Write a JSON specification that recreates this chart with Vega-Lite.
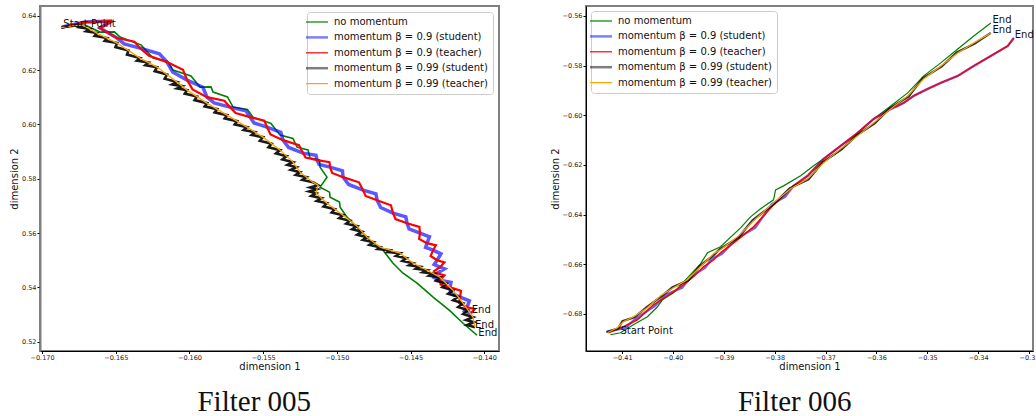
{
  "$schema": "https://vega.github.io/schema/vega-lite/v6.json",
  "padding": {"left": 8, "top": 5, "right": 0, "bottom": 0},
  "background": "white",
  "spacing": 49,
  "config": {
    "view": {"stroke": "#808080", "strokeWidth": 2},
    "axis": {"grid": false, "domainColor": "#000000", "tickColor": "#000000", "labelColor": "#222222", "labelFont": "DejaVu Sans", "labelFontSize": 6.5, "tickSize": 3, "labelPadding": 1, "titleFont": "DejaVu Sans", "titleFontSize": 10, "titleFontWeight": "normal", "titleColor": "#111111", "titlePadding": 2},
    "legend": {"labelFont": "DejaVu Sans", "labelFontSize": 10, "labelColor": "#111111"}
  },
  "datasets": {
    "f005": [
      {"s": "no momentum", "x": -0.16864, "y": 0.63584},
      {"s": "no momentum", "x": -0.16708, "y": 0.63657},
      {"s": "no momentum", "x": -0.16607, "y": 0.63400},
      {"s": "no momentum", "x": -0.16509, "y": 0.63408},
      {"s": "no momentum", "x": -0.16471, "y": 0.63216},
      {"s": "no momentum", "x": -0.16329, "y": 0.62929},
      {"s": "no momentum", "x": -0.16247, "y": 0.62442},
      {"s": "no momentum", "x": -0.16149, "y": 0.62321},
      {"s": "no momentum", "x": -0.16111, "y": 0.62000},
      {"s": "no momentum", "x": -0.15990, "y": 0.61787},
      {"s": "no momentum", "x": -0.15928, "y": 0.61374},
      {"s": "no momentum", "x": -0.15854, "y": 0.61382},
      {"s": "no momentum", "x": -0.15840, "y": 0.61190},
      {"s": "no momentum", "x": -0.15742, "y": 0.61014},
      {"s": "no momentum", "x": -0.15704, "y": 0.60637},
      {"s": "no momentum", "x": -0.15607, "y": 0.60553},
      {"s": "no momentum", "x": -0.15569, "y": 0.60269},
      {"s": "no momentum", "x": -0.15447, "y": 0.60038},
      {"s": "no momentum", "x": -0.15385, "y": 0.59606},
      {"s": "no momentum", "x": -0.15298, "y": 0.59485},
      {"s": "no momentum", "x": -0.15270, "y": 0.59164},
      {"s": "no momentum", "x": -0.15196, "y": 0.59062},
      {"s": "no momentum", "x": -0.15182, "y": 0.58759},
      {"s": "no momentum", "x": -0.15118, "y": 0.58694},
      {"s": "no momentum", "x": -0.15114, "y": 0.58428},
      {"s": "no momentum", "x": -0.15067, "y": 0.58059},
      {"s": "no momentum", "x": -0.15114, "y": 0.57691},
      {"s": "no momentum", "x": -0.15050, "y": 0.57507},
      {"s": "no momentum", "x": -0.15046, "y": 0.57323},
      {"s": "no momentum", "x": -0.14982, "y": 0.57140},
      {"s": "no momentum", "x": -0.14978, "y": 0.56954},
      {"s": "no momentum", "x": -0.14931, "y": 0.56586},
      {"s": "no momentum", "x": -0.14843, "y": 0.56107},
      {"s": "no momentum", "x": -0.14775, "y": 0.55739},
      {"s": "no momentum", "x": -0.14687, "y": 0.55371},
      {"s": "no momentum", "x": -0.14619, "y": 0.54892},
      {"s": "no momentum", "x": -0.14551, "y": 0.54524},
      {"s": "no momentum", "x": -0.14456, "y": 0.54155},
      {"s": "no momentum", "x": -0.14347, "y": 0.53640},
      {"s": "no momentum", "x": -0.14232, "y": 0.53139},
      {"s": "no momentum", "x": -0.14144, "y": 0.52682},
      {"s": "no momentum", "x": -0.14049, "y": 0.52240},

      {"s": "momentum β = 0.9 (student)", "x": -0.16864, "y": 0.63584},
      {"s": "momentum β = 0.9 (student)", "x": -0.16708, "y": 0.63768},
      {"s": "momentum β = 0.9 (student)", "x": -0.16525, "y": 0.63805},
      {"s": "momentum β = 0.9 (student)", "x": -0.16607, "y": 0.63547},
      {"s": "momentum β = 0.9 (student)", "x": -0.16491, "y": 0.63179},
      {"s": "momentum β = 0.9 (student)", "x": -0.16443, "y": 0.62965},
      {"s": "momentum β = 0.9 (student)", "x": -0.16335, "y": 0.62810},
      {"s": "momentum β = 0.9 (student)", "x": -0.16204, "y": 0.62603},
      {"s": "momentum β = 0.9 (student)", "x": -0.16152, "y": 0.62295},
      {"s": "momentum β = 0.9 (student)", "x": -0.16114, "y": 0.61934},
      {"s": "momentum β = 0.9 (student)", "x": -0.16016, "y": 0.61632},
      {"s": "momentum β = 0.9 (student)", "x": -0.15909, "y": 0.61369},
      {"s": "momentum β = 0.9 (student)", "x": -0.15881, "y": 0.61006},
      {"s": "momentum β = 0.9 (student)", "x": -0.15833, "y": 0.60792},
      {"s": "momentum β = 0.9 (student)", "x": -0.15725, "y": 0.60637},
      {"s": "momentum β = 0.9 (student)", "x": -0.15617, "y": 0.60503},
      {"s": "momentum β = 0.9 (student)", "x": -0.15589, "y": 0.60269},
      {"s": "momentum β = 0.9 (student)", "x": -0.15562, "y": 0.60055},
      {"s": "momentum β = 0.9 (student)", "x": -0.15474, "y": 0.59901},
      {"s": "momentum β = 0.9 (student)", "x": -0.15380, "y": 0.59712},
      {"s": "momentum β = 0.9 (student)", "x": -0.15365, "y": 0.59422},
      {"s": "momentum β = 0.9 (student)", "x": -0.15327, "y": 0.59153},
      {"s": "momentum β = 0.9 (student)", "x": -0.15229, "y": 0.58943},
      {"s": "momentum β = 0.9 (student)", "x": -0.15142, "y": 0.58865},
      {"s": "momentum β = 0.9 (student)", "x": -0.15134, "y": 0.58686},
      {"s": "momentum β = 0.9 (student)", "x": -0.15120, "y": 0.58527},
      {"s": "momentum β = 0.9 (student)", "x": -0.15046, "y": 0.58428},
      {"s": "momentum β = 0.9 (student)", "x": -0.14962, "y": 0.58294},
      {"s": "momentum β = 0.9 (student)", "x": -0.14958, "y": 0.58059},
      {"s": "momentum β = 0.9 (student)", "x": -0.14920, "y": 0.57790},
      {"s": "momentum β = 0.9 (student)", "x": -0.14822, "y": 0.57581},
      {"s": "momentum β = 0.9 (student)", "x": -0.14735, "y": 0.57447},
      {"s": "momentum β = 0.9 (student)", "x": -0.14727, "y": 0.57212},
      {"s": "momentum β = 0.9 (student)", "x": -0.14703, "y": 0.56943},
      {"s": "momentum β = 0.9 (student)", "x": -0.14619, "y": 0.56733},
      {"s": "momentum β = 0.9 (student)", "x": -0.14532, "y": 0.56599},
      {"s": "momentum β = 0.9 (student)", "x": -0.14524, "y": 0.56365},
      {"s": "momentum β = 0.9 (student)", "x": -0.14510, "y": 0.56151},
      {"s": "momentum β = 0.9 (student)", "x": -0.14436, "y": 0.55997},
      {"s": "momentum β = 0.9 (student)", "x": -0.14372, "y": 0.55863},
      {"s": "momentum β = 0.9 (student)", "x": -0.14388, "y": 0.55629},
      {"s": "momentum β = 0.9 (student)", "x": -0.14398, "y": 0.55470},
      {"s": "momentum β = 0.9 (student)", "x": -0.14347, "y": 0.55371},
      {"s": "momentum β = 0.9 (student)", "x": -0.14294, "y": 0.55237},
      {"s": "momentum β = 0.9 (student)", "x": -0.14320, "y": 0.55002},
      {"s": "momentum β = 0.9 (student)", "x": -0.14340, "y": 0.54844},
      {"s": "momentum β = 0.9 (student)", "x": -0.14300, "y": 0.54745},
      {"s": "momentum β = 0.9 (student)", "x": -0.14270, "y": 0.54685},
      {"s": "momentum β = 0.9 (student)", "x": -0.14320, "y": 0.54524},
      {"s": "momentum β = 0.9 (student)", "x": -0.14340, "y": 0.54365},
      {"s": "momentum β = 0.9 (student)", "x": -0.14300, "y": 0.54266},
      {"s": "momentum β = 0.9 (student)", "x": -0.14226, "y": 0.54187},
      {"s": "momentum β = 0.9 (student)", "x": -0.14232, "y": 0.54008},
      {"s": "momentum β = 0.9 (student)", "x": -0.14228, "y": 0.53794},
      {"s": "momentum β = 0.9 (student)", "x": -0.14164, "y": 0.53640},
      {"s": "momentum β = 0.9 (student)", "x": -0.14101, "y": 0.53506},
      {"s": "momentum β = 0.9 (student)", "x": -0.14117, "y": 0.53271},
      {"s": "momentum β = 0.9 (student)", "x": -0.14134, "y": 0.53131},
      {"s": "momentum β = 0.9 (student)", "x": -0.14090, "y": 0.53050},

      {"s": "momentum β = 0.9 (teacher)", "x": -0.16864, "y": 0.63584},
      {"s": "momentum β = 0.9 (teacher)", "x": -0.16708, "y": 0.63768},
      {"s": "momentum β = 0.9 (teacher)", "x": -0.16525, "y": 0.63805},
      {"s": "momentum β = 0.9 (teacher)", "x": -0.16607, "y": 0.63547},
      {"s": "momentum β = 0.9 (teacher)", "x": -0.16491, "y": 0.63179},
      {"s": "momentum β = 0.9 (teacher)", "x": -0.16373, "y": 0.63045},
      {"s": "momentum β = 0.9 (teacher)", "x": -0.16335, "y": 0.62810},
      {"s": "momentum β = 0.9 (teacher)", "x": -0.16274, "y": 0.62523},
      {"s": "momentum β = 0.9 (teacher)", "x": -0.16152, "y": 0.62295},
      {"s": "momentum β = 0.9 (teacher)", "x": -0.16044, "y": 0.62014},
      {"s": "momentum β = 0.9 (teacher)", "x": -0.16016, "y": 0.61632},
      {"s": "momentum β = 0.9 (teacher)", "x": -0.15979, "y": 0.61289},
      {"s": "momentum β = 0.9 (teacher)", "x": -0.15881, "y": 0.61006},
      {"s": "momentum β = 0.9 (teacher)", "x": -0.15763, "y": 0.60872},
      {"s": "momentum β = 0.9 (teacher)", "x": -0.15725, "y": 0.60637},
      {"s": "momentum β = 0.9 (teacher)", "x": -0.15687, "y": 0.60423},
      {"s": "momentum β = 0.9 (teacher)", "x": -0.15589, "y": 0.60269},
      {"s": "momentum β = 0.9 (teacher)", "x": -0.15492, "y": 0.60135},
      {"s": "momentum β = 0.9 (teacher)", "x": -0.15474, "y": 0.59901},
      {"s": "momentum β = 0.9 (teacher)", "x": -0.15450, "y": 0.59632},
      {"s": "momentum β = 0.9 (teacher)", "x": -0.15365, "y": 0.59422},
      {"s": "momentum β = 0.9 (teacher)", "x": -0.15257, "y": 0.59233},
      {"s": "momentum β = 0.9 (teacher)", "x": -0.15229, "y": 0.58943},
      {"s": "momentum β = 0.9 (teacher)", "x": -0.15212, "y": 0.58785},
      {"s": "momentum β = 0.9 (teacher)", "x": -0.15134, "y": 0.58686},
      {"s": "momentum β = 0.9 (teacher)", "x": -0.15050, "y": 0.58607},
      {"s": "momentum β = 0.9 (teacher)", "x": -0.15046, "y": 0.58428},
      {"s": "momentum β = 0.9 (teacher)", "x": -0.15032, "y": 0.58214},
      {"s": "momentum β = 0.9 (teacher)", "x": -0.14958, "y": 0.58059},
      {"s": "momentum β = 0.9 (teacher)", "x": -0.14850, "y": 0.57870},
      {"s": "momentum β = 0.9 (teacher)", "x": -0.14822, "y": 0.57581},
      {"s": "momentum β = 0.9 (teacher)", "x": -0.14805, "y": 0.57367},
      {"s": "momentum β = 0.9 (teacher)", "x": -0.14727, "y": 0.57212},
      {"s": "momentum β = 0.9 (teacher)", "x": -0.14633, "y": 0.57023},
      {"s": "momentum β = 0.9 (teacher)", "x": -0.14619, "y": 0.56733},
      {"s": "momentum β = 0.9 (teacher)", "x": -0.14602, "y": 0.56519},
      {"s": "momentum β = 0.9 (teacher)", "x": -0.14524, "y": 0.56365},
      {"s": "momentum β = 0.9 (teacher)", "x": -0.14440, "y": 0.56231},
      {"s": "momentum β = 0.9 (teacher)", "x": -0.14436, "y": 0.55997},
      {"s": "momentum β = 0.9 (teacher)", "x": -0.14442, "y": 0.55783},
      {"s": "momentum β = 0.9 (teacher)", "x": -0.14388, "y": 0.55629},
      {"s": "momentum β = 0.9 (teacher)", "x": -0.14328, "y": 0.55550},
      {"s": "momentum β = 0.9 (teacher)", "x": -0.14347, "y": 0.55371},
      {"s": "momentum β = 0.9 (teacher)", "x": -0.14364, "y": 0.55157},
      {"s": "momentum β = 0.9 (teacher)", "x": -0.14320, "y": 0.55002},
      {"s": "momentum β = 0.9 (teacher)", "x": -0.14270, "y": 0.54924},
      {"s": "momentum β = 0.9 (teacher)", "x": -0.14300, "y": 0.54745},
      {"s": "momentum β = 0.9 (teacher)", "x": -0.14340, "y": 0.54605},
      {"s": "momentum β = 0.9 (teacher)", "x": -0.14320, "y": 0.54524},
      {"s": "momentum β = 0.9 (teacher)", "x": -0.14270, "y": 0.54445},
      {"s": "momentum β = 0.9 (teacher)", "x": -0.14300, "y": 0.54266},
      {"s": "momentum β = 0.9 (teacher)", "x": -0.14296, "y": 0.54107},
      {"s": "momentum β = 0.9 (teacher)", "x": -0.14232, "y": 0.54008},
      {"s": "momentum β = 0.9 (teacher)", "x": -0.14158, "y": 0.53874},
      {"s": "momentum β = 0.9 (teacher)", "x": -0.14164, "y": 0.53640},
      {"s": "momentum β = 0.9 (teacher)", "x": -0.14171, "y": 0.53426},
      {"s": "momentum β = 0.9 (teacher)", "x": -0.14117, "y": 0.53271},
      {"s": "momentum β = 0.9 (teacher)", "x": -0.14064, "y": 0.53211},
      {"s": "momentum β = 0.9 (teacher)", "x": -0.14090, "y": 0.53050},

      {"s": "momentum β = 0.99 (student)", "x": -0.16871, "y": 0.63565},
      {"s": "momentum β = 0.99 (student)", "x": -0.16810, "y": 0.63621},
      {"s": "momentum β = 0.99 (student)", "x": -0.16722, "y": 0.63657},
      {"s": "momentum β = 0.99 (student)", "x": -0.16748, "y": 0.63573},
      {"s": "momentum β = 0.99 (student)", "x": -0.16675, "y": 0.63510},
      {"s": "momentum β = 0.99 (student)", "x": -0.16701, "y": 0.63426},
      {"s": "momentum β = 0.99 (student)", "x": -0.16627, "y": 0.63363},
      {"s": "momentum β = 0.99 (student)", "x": -0.16643, "y": 0.63261},
      {"s": "momentum β = 0.99 (student)", "x": -0.16559, "y": 0.63179},
      {"s": "momentum β = 0.99 (student)", "x": -0.16575, "y": 0.63077},
      {"s": "momentum β = 0.99 (student)", "x": -0.16491, "y": 0.62995},
      {"s": "momentum β = 0.99 (student)", "x": -0.16502, "y": 0.62847},
      {"s": "momentum β = 0.99 (student)", "x": -0.16413, "y": 0.62719},
      {"s": "momentum β = 0.99 (student)", "x": -0.16424, "y": 0.62570},
      {"s": "momentum β = 0.99 (student)", "x": -0.16335, "y": 0.62442},
      {"s": "momentum β = 0.99 (student)", "x": -0.16356, "y": 0.62349},
      {"s": "momentum β = 0.99 (student)", "x": -0.16278, "y": 0.62277},
      {"s": "momentum β = 0.99 (student)", "x": -0.16299, "y": 0.62184},
      {"s": "momentum β = 0.99 (student)", "x": -0.16220, "y": 0.62111},
      {"s": "momentum β = 0.99 (student)", "x": -0.16236, "y": 0.61963},
      {"s": "momentum β = 0.99 (student)", "x": -0.16152, "y": 0.61835},
      {"s": "momentum β = 0.99 (student)", "x": -0.16168, "y": 0.61686},
      {"s": "momentum β = 0.99 (student)", "x": -0.16084, "y": 0.61558},
      {"s": "momentum β = 0.99 (student)", "x": -0.16117, "y": 0.61475},
      {"s": "momentum β = 0.99 (student)", "x": -0.16050, "y": 0.61411},
      {"s": "momentum β = 0.99 (student)", "x": -0.16083, "y": 0.61328},
      {"s": "momentum β = 0.99 (student)", "x": -0.16016, "y": 0.61264},
      {"s": "momentum β = 0.99 (student)", "x": -0.16032, "y": 0.61134},
      {"s": "momentum β = 0.99 (student)", "x": -0.15949, "y": 0.61025},
      {"s": "momentum β = 0.99 (student)", "x": -0.15965, "y": 0.60895},
      {"s": "momentum β = 0.99 (student)", "x": -0.15881, "y": 0.60785},
      {"s": "momentum β = 0.99 (student)", "x": -0.15897, "y": 0.60665},
      {"s": "momentum β = 0.99 (student)", "x": -0.15813, "y": 0.60564},
      {"s": "momentum β = 0.99 (student)", "x": -0.15829, "y": 0.60444},
      {"s": "momentum β = 0.99 (student)", "x": -0.15745, "y": 0.60343},
      {"s": "momentum β = 0.99 (student)", "x": -0.15761, "y": 0.60223},
      {"s": "momentum β = 0.99 (student)", "x": -0.15677, "y": 0.60122},
      {"s": "momentum β = 0.99 (student)", "x": -0.15693, "y": 0.60002},
      {"s": "momentum β = 0.99 (student)", "x": -0.15609, "y": 0.59901},
      {"s": "momentum β = 0.99 (student)", "x": -0.15632, "y": 0.59799},
      {"s": "momentum β = 0.99 (student)", "x": -0.15555, "y": 0.59717},
      {"s": "momentum β = 0.99 (student)", "x": -0.15578, "y": 0.59615},
      {"s": "momentum β = 0.99 (student)", "x": -0.15501, "y": 0.59533},
      {"s": "momentum β = 0.99 (student)", "x": -0.15522, "y": 0.59403},
      {"s": "momentum β = 0.99 (student)", "x": -0.15443, "y": 0.59294},
      {"s": "momentum β = 0.99 (student)", "x": -0.15464, "y": 0.59164},
      {"s": "momentum β = 0.99 (student)", "x": -0.15385, "y": 0.59054},
      {"s": "momentum β = 0.99 (student)", "x": -0.15413, "y": 0.58934},
      {"s": "momentum β = 0.99 (student)", "x": -0.15341, "y": 0.58833},
      {"s": "momentum β = 0.99 (student)", "x": -0.15369, "y": 0.58713},
      {"s": "momentum β = 0.99 (student)", "x": -0.15297, "y": 0.58612},
      {"s": "momentum β = 0.99 (student)", "x": -0.15335, "y": 0.58510},
      {"s": "momentum β = 0.99 (student)", "x": -0.15274, "y": 0.58428},
      {"s": "momentum β = 0.99 (student)", "x": -0.15312, "y": 0.58326},
      {"s": "momentum β = 0.99 (student)", "x": -0.15250, "y": 0.58244},
      {"s": "momentum β = 0.99 (student)", "x": -0.15278, "y": 0.58142},
      {"s": "momentum β = 0.99 (student)", "x": -0.15206, "y": 0.58060},
      {"s": "momentum β = 0.99 (student)", "x": -0.15234, "y": 0.57957},
      {"s": "momentum β = 0.99 (student)", "x": -0.15162, "y": 0.57875},
      {"s": "momentum β = 0.99 (student)", "x": -0.15128, "y": 0.57765},
      {"s": "momentum β = 0.99 (student)", "x": -0.15181, "y": 0.57681},
      {"s": "momentum β = 0.99 (student)", "x": -0.15135, "y": 0.57618},
      {"s": "momentum β = 0.99 (student)", "x": -0.15188, "y": 0.57534},
      {"s": "momentum β = 0.99 (student)", "x": -0.15141, "y": 0.57470},
      {"s": "momentum β = 0.99 (student)", "x": -0.15173, "y": 0.57368},
      {"s": "momentum β = 0.99 (student)", "x": -0.15104, "y": 0.57286},
      {"s": "momentum β = 0.99 (student)", "x": -0.15136, "y": 0.57184},
      {"s": "momentum β = 0.99 (student)", "x": -0.15067, "y": 0.57102},
      {"s": "momentum β = 0.99 (student)", "x": -0.15090, "y": 0.56982},
      {"s": "momentum β = 0.99 (student)", "x": -0.15013, "y": 0.56881},
      {"s": "momentum β = 0.99 (student)", "x": -0.15035, "y": 0.56761},
      {"s": "momentum β = 0.99 (student)", "x": -0.14958, "y": 0.56660},
      {"s": "momentum β = 0.99 (student)", "x": -0.14984, "y": 0.56549},
      {"s": "momentum β = 0.99 (student)", "x": -0.14911, "y": 0.56458},
      {"s": "momentum β = 0.99 (student)", "x": -0.14937, "y": 0.56346},
      {"s": "momentum β = 0.99 (student)", "x": -0.14863, "y": 0.56255},
      {"s": "momentum β = 0.99 (student)", "x": -0.14896, "y": 0.56144},
      {"s": "momentum β = 0.99 (student)", "x": -0.14829, "y": 0.56053},
      {"s": "momentum β = 0.99 (student)", "x": -0.14862, "y": 0.55941},
      {"s": "momentum β = 0.99 (student)", "x": -0.14795, "y": 0.55850},
      {"s": "momentum β = 0.99 (student)", "x": -0.14823, "y": 0.55748},
      {"s": "momentum β = 0.99 (student)", "x": -0.14751, "y": 0.55666},
      {"s": "momentum β = 0.99 (student)", "x": -0.14779, "y": 0.55563},
      {"s": "momentum β = 0.99 (student)", "x": -0.14707, "y": 0.55481},
      {"s": "momentum β = 0.99 (student)", "x": -0.14723, "y": 0.55416},
      {"s": "momentum β = 0.99 (student)", "x": -0.14639, "y": 0.55371},
      {"s": "momentum β = 0.99 (student)", "x": -0.14655, "y": 0.55305},
      {"s": "momentum β = 0.99 (student)", "x": -0.14571, "y": 0.55260},
      {"s": "momentum β = 0.99 (student)", "x": -0.14599, "y": 0.55158},
      {"s": "momentum β = 0.99 (student)", "x": -0.14527, "y": 0.55076},
      {"s": "momentum β = 0.99 (student)", "x": -0.14555, "y": 0.54974},
      {"s": "momentum β = 0.99 (student)", "x": -0.14483, "y": 0.54892},
      {"s": "momentum β = 0.99 (student)", "x": -0.14509, "y": 0.54818},
      {"s": "momentum β = 0.99 (student)", "x": -0.14436, "y": 0.54763},
      {"s": "momentum β = 0.99 (student)", "x": -0.14462, "y": 0.54689},
      {"s": "momentum β = 0.99 (student)", "x": -0.14388, "y": 0.54634},
      {"s": "momentum β = 0.99 (student)", "x": -0.14416, "y": 0.54560},
      {"s": "momentum β = 0.99 (student)", "x": -0.14344, "y": 0.54505},
      {"s": "momentum β = 0.99 (student)", "x": -0.14372, "y": 0.54431},
      {"s": "momentum β = 0.99 (student)", "x": -0.14300, "y": 0.54376},
      {"s": "momentum β = 0.99 (student)", "x": -0.14328, "y": 0.54247},
      {"s": "momentum β = 0.99 (student)", "x": -0.14256, "y": 0.54137},
      {"s": "momentum β = 0.99 (student)", "x": -0.14284, "y": 0.54008},
      {"s": "momentum β = 0.99 (student)", "x": -0.14212, "y": 0.53898},
      {"s": "momentum β = 0.99 (student)", "x": -0.14245, "y": 0.53768},
      {"s": "momentum β = 0.99 (student)", "x": -0.14178, "y": 0.53659},
      {"s": "momentum β = 0.99 (student)", "x": -0.14211, "y": 0.53529},
      {"s": "momentum β = 0.99 (student)", "x": -0.14144, "y": 0.53419},
      {"s": "momentum β = 0.99 (student)", "x": -0.14177, "y": 0.53280},
      {"s": "momentum β = 0.99 (student)", "x": -0.14110, "y": 0.53161},
      {"s": "momentum β = 0.99 (student)", "x": -0.14143, "y": 0.53022},
      {"s": "momentum β = 0.99 (student)", "x": -0.14076, "y": 0.52903},
      {"s": "momentum β = 0.99 (student)", "x": -0.14123, "y": 0.52801},
      {"s": "momentum β = 0.99 (student)", "x": -0.14070, "y": 0.52719},
      {"s": "momentum β = 0.99 (student)", "x": -0.14116, "y": 0.52617},
      {"s": "momentum β = 0.99 (student)", "x": -0.14063, "y": 0.52535},

      {"s": "momentum β = 0.99 (teacher)", "x": -0.16871, "y": 0.63565},
      {"s": "momentum β = 0.99 (teacher)", "x": -0.16810, "y": 0.63621},
      {"s": "momentum β = 0.99 (teacher)", "x": -0.16722, "y": 0.63657},
      {"s": "momentum β = 0.99 (teacher)", "x": -0.16627, "y": 0.63363},
      {"s": "momentum β = 0.99 (teacher)", "x": -0.16491, "y": 0.62995},
      {"s": "momentum β = 0.99 (teacher)", "x": -0.16335, "y": 0.62442},
      {"s": "momentum β = 0.99 (teacher)", "x": -0.16220, "y": 0.62111},
      {"s": "momentum β = 0.99 (teacher)", "x": -0.16084, "y": 0.61558},
      {"s": "momentum β = 0.99 (teacher)", "x": -0.16016, "y": 0.61264},
      {"s": "momentum β = 0.99 (teacher)", "x": -0.15881, "y": 0.60785},
      {"s": "momentum β = 0.99 (teacher)", "x": -0.15745, "y": 0.60343},
      {"s": "momentum β = 0.99 (teacher)", "x": -0.15609, "y": 0.59901},
      {"s": "momentum β = 0.99 (teacher)", "x": -0.15501, "y": 0.59533},
      {"s": "momentum β = 0.99 (teacher)", "x": -0.15385, "y": 0.59054},
      {"s": "momentum β = 0.99 (teacher)", "x": -0.15297, "y": 0.58612},
      {"s": "momentum β = 0.99 (teacher)", "x": -0.15250, "y": 0.58244},
      {"s": "momentum β = 0.99 (teacher)", "x": -0.15162, "y": 0.57875},
      {"s": "momentum β = 0.99 (teacher)", "x": -0.15128, "y": 0.57765},
      {"s": "momentum β = 0.99 (teacher)", "x": -0.15141, "y": 0.57470},
      {"s": "momentum β = 0.99 (teacher)", "x": -0.15067, "y": 0.57102},
      {"s": "momentum β = 0.99 (teacher)", "x": -0.14958, "y": 0.56660},
      {"s": "momentum β = 0.99 (teacher)", "x": -0.14863, "y": 0.56255},
      {"s": "momentum β = 0.99 (teacher)", "x": -0.14795, "y": 0.55850},
      {"s": "momentum β = 0.99 (teacher)", "x": -0.14707, "y": 0.55481},
      {"s": "momentum β = 0.99 (teacher)", "x": -0.14571, "y": 0.55260},
      {"s": "momentum β = 0.99 (teacher)", "x": -0.14483, "y": 0.54892},
      {"s": "momentum β = 0.99 (teacher)", "x": -0.14388, "y": 0.54634},
      {"s": "momentum β = 0.99 (teacher)", "x": -0.14300, "y": 0.54376},
      {"s": "momentum β = 0.99 (teacher)", "x": -0.14212, "y": 0.53898},
      {"s": "momentum β = 0.99 (teacher)", "x": -0.14144, "y": 0.53419},
      {"s": "momentum β = 0.99 (teacher)", "x": -0.14076, "y": 0.52903},
      {"s": "momentum β = 0.99 (teacher)", "x": -0.14063, "y": 0.52535}
    ],
    "f006": [
      {"s": "no momentum", "x": -0.41230, "y": -0.68837},
      {"s": "no momentum", "x": -0.41033, "y": -0.68756},
      {"s": "no momentum", "x": -0.40778, "y": -0.68434},
      {"s": "no momentum", "x": -0.40502, "y": -0.68112},
      {"s": "no momentum", "x": -0.40305, "y": -0.67710},
      {"s": "no momentum", "x": -0.40207, "y": -0.67428},
      {"s": "no momentum", "x": -0.39990, "y": -0.67146},
      {"s": "no momentum", "x": -0.39715, "y": -0.66543},
      {"s": "no momentum", "x": -0.39459, "y": -0.65980},
      {"s": "no momentum", "x": -0.39321, "y": -0.65537},
      {"s": "no momentum", "x": -0.39065, "y": -0.65295},
      {"s": "no momentum", "x": -0.38671, "y": -0.64531},
      {"s": "no momentum", "x": -0.38474, "y": -0.64088},
      {"s": "no momentum", "x": -0.38278, "y": -0.63766},
      {"s": "no momentum", "x": -0.38022, "y": -0.63404},
      {"s": "no momentum", "x": -0.37982, "y": -0.63002},
      {"s": "no momentum", "x": -0.37825, "y": -0.62841},
      {"s": "no momentum", "x": -0.37490, "y": -0.62438},
      {"s": "no momentum", "x": -0.37234, "y": -0.62036},
      {"s": "no momentum", "x": -0.37037, "y": -0.61754},
      {"s": "no momentum", "x": -0.36703, "y": -0.61231},
      {"s": "no momentum", "x": -0.36368, "y": -0.60708},
      {"s": "no momentum", "x": -0.36053, "y": -0.60145},
      {"s": "no momentum", "x": -0.35718, "y": -0.59622},
      {"s": "no momentum", "x": -0.35384, "y": -0.59098},
      {"s": "no momentum", "x": -0.35069, "y": -0.58414},
      {"s": "no momentum", "x": -0.34734, "y": -0.57891},
      {"s": "no momentum", "x": -0.34400, "y": -0.57328},
      {"s": "no momentum", "x": -0.34085, "y": -0.56805},
      {"s": "no momentum", "x": -0.33750, "y": -0.56282},

      {"s": "momentum β = 0.9 (student)", "x": -0.41300, "y": -0.68716},
      {"s": "momentum β = 0.9 (student)", "x": -0.40944, "y": -0.68555},
      {"s": "momentum β = 0.9 (student)", "x": -0.40729, "y": -0.68193},
      {"s": "momentum β = 0.9 (student)", "x": -0.40354, "y": -0.67669},
      {"s": "momentum β = 0.9 (student)", "x": -0.40138, "y": -0.67227},
      {"s": "momentum β = 0.9 (student)", "x": -0.39822, "y": -0.66945},
      {"s": "momentum β = 0.9 (student)", "x": -0.39626, "y": -0.66463},
      {"s": "momentum β = 0.9 (student)", "x": -0.39370, "y": -0.66140},
      {"s": "momentum β = 0.9 (student)", "x": -0.39233, "y": -0.65779},
      {"s": "momentum β = 0.9 (student)", "x": -0.39035, "y": -0.65577},
      {"s": "momentum β = 0.9 (student)", "x": -0.38760, "y": -0.64974},
      {"s": "momentum β = 0.9 (student)", "x": -0.38385, "y": -0.64531},
      {"s": "momentum β = 0.9 (student)", "x": -0.38052, "y": -0.63565},
      {"s": "momentum β = 0.9 (student)", "x": -0.37795, "y": -0.63283},
      {"s": "momentum β = 0.9 (student)", "x": -0.37628, "y": -0.62841},
      {"s": "momentum β = 0.9 (student)", "x": -0.37352, "y": -0.62438},
      {"s": "momentum β = 0.9 (student)", "x": -0.37037, "y": -0.61754},
      {"s": "momentum β = 0.9 (student)", "x": -0.36703, "y": -0.61231},
      {"s": "momentum β = 0.9 (student)", "x": -0.36368, "y": -0.60708},
      {"s": "momentum β = 0.9 (student)", "x": -0.36053, "y": -0.60145},
      {"s": "momentum β = 0.9 (student)", "x": -0.35718, "y": -0.59742},
      {"s": "momentum β = 0.9 (student)", "x": -0.35581, "y": -0.59622},
      {"s": "momentum β = 0.9 (student)", "x": -0.35463, "y": -0.59501},
      {"s": "momentum β = 0.9 (student)", "x": -0.35266, "y": -0.59219},
      {"s": "momentum β = 0.9 (student)", "x": -0.34990, "y": -0.58938},
      {"s": "momentum β = 0.9 (student)", "x": -0.34734, "y": -0.58696},
      {"s": "momentum β = 0.9 (student)", "x": -0.34400, "y": -0.58414},
      {"s": "momentum β = 0.9 (student)", "x": -0.34085, "y": -0.58012},
      {"s": "momentum β = 0.9 (student)", "x": -0.33750, "y": -0.57610},
      {"s": "momentum β = 0.9 (student)", "x": -0.33415, "y": -0.57207},
      {"s": "momentum β = 0.9 (student)", "x": -0.33297, "y": -0.56885},

      {"s": "momentum β = 0.9 (teacher)", "x": -0.41270, "y": -0.68756},
      {"s": "momentum β = 0.9 (teacher)", "x": -0.40974, "y": -0.68515},
      {"s": "momentum β = 0.9 (teacher)", "x": -0.40699, "y": -0.68233},
      {"s": "momentum β = 0.9 (teacher)", "x": -0.40384, "y": -0.67629},
      {"s": "momentum β = 0.9 (teacher)", "x": -0.40108, "y": -0.67267},
      {"s": "momentum β = 0.9 (teacher)", "x": -0.39852, "y": -0.66905},
      {"s": "momentum β = 0.9 (teacher)", "x": -0.39596, "y": -0.66503},
      {"s": "momentum β = 0.9 (teacher)", "x": -0.39400, "y": -0.66100},
      {"s": "momentum β = 0.9 (teacher)", "x": -0.39203, "y": -0.65819},
      {"s": "momentum β = 0.9 (teacher)", "x": -0.39065, "y": -0.65537},
      {"s": "momentum β = 0.9 (teacher)", "x": -0.38730, "y": -0.65014},
      {"s": "momentum β = 0.9 (teacher)", "x": -0.38415, "y": -0.64491},
      {"s": "momentum β = 0.9 (teacher)", "x": -0.38022, "y": -0.63605},
      {"s": "momentum β = 0.9 (teacher)", "x": -0.37825, "y": -0.63243},
      {"s": "momentum β = 0.9 (teacher)", "x": -0.37628, "y": -0.62841},
      {"s": "momentum β = 0.9 (teacher)", "x": -0.37352, "y": -0.62438},
      {"s": "momentum β = 0.9 (teacher)", "x": -0.37037, "y": -0.61754},
      {"s": "momentum β = 0.9 (teacher)", "x": -0.36703, "y": -0.61231},
      {"s": "momentum β = 0.9 (teacher)", "x": -0.36368, "y": -0.60708},
      {"s": "momentum β = 0.9 (teacher)", "x": -0.36053, "y": -0.60145},
      {"s": "momentum β = 0.9 (teacher)", "x": -0.35718, "y": -0.59742},
      {"s": "momentum β = 0.9 (teacher)", "x": -0.35581, "y": -0.59622},
      {"s": "momentum β = 0.9 (teacher)", "x": -0.35463, "y": -0.59501},
      {"s": "momentum β = 0.9 (teacher)", "x": -0.35266, "y": -0.59219},
      {"s": "momentum β = 0.9 (teacher)", "x": -0.34990, "y": -0.58938},
      {"s": "momentum β = 0.9 (teacher)", "x": -0.34734, "y": -0.58696},
      {"s": "momentum β = 0.9 (teacher)", "x": -0.34400, "y": -0.58414},
      {"s": "momentum β = 0.9 (teacher)", "x": -0.34085, "y": -0.58012},
      {"s": "momentum β = 0.9 (teacher)", "x": -0.33750, "y": -0.57610},
      {"s": "momentum β = 0.9 (teacher)", "x": -0.33415, "y": -0.57207},
      {"s": "momentum β = 0.9 (teacher)", "x": -0.33297, "y": -0.56885},

      {"s": "momentum β = 0.99 (student)", "x": -0.41309, "y": -0.68736},
      {"s": "momentum β = 0.99 (student)", "x": -0.41073, "y": -0.68575},
      {"s": "momentum β = 0.99 (student)", "x": -0.40994, "y": -0.68293},
      {"s": "momentum β = 0.99 (student)", "x": -0.40758, "y": -0.68132},
      {"s": "momentum β = 0.99 (student)", "x": -0.40522, "y": -0.67730},
      {"s": "momentum β = 0.99 (student)", "x": -0.40226, "y": -0.67287},
      {"s": "momentum β = 0.99 (student)", "x": -0.40010, "y": -0.66925},
      {"s": "momentum β = 0.99 (student)", "x": -0.39695, "y": -0.66643},
      {"s": "momentum β = 0.99 (student)", "x": -0.39479, "y": -0.66080},
      {"s": "momentum β = 0.99 (student)", "x": -0.39183, "y": -0.65597},
      {"s": "momentum β = 0.99 (student)", "x": -0.39085, "y": -0.65396},
      {"s": "momentum β = 0.99 (student)", "x": -0.38710, "y": -0.64913},
      {"s": "momentum β = 0.99 (student)", "x": -0.38435, "y": -0.64229},
      {"s": "momentum β = 0.99 (student)", "x": -0.38002, "y": -0.63545},
      {"s": "momentum β = 0.99 (student)", "x": -0.37707, "y": -0.62942},
      {"s": "momentum β = 0.99 (student)", "x": -0.37332, "y": -0.62579},
      {"s": "momentum β = 0.99 (student)", "x": -0.37057, "y": -0.61895},
      {"s": "momentum β = 0.99 (student)", "x": -0.36683, "y": -0.61372},
      {"s": "momentum β = 0.99 (student)", "x": -0.36388, "y": -0.60809},
      {"s": "momentum β = 0.99 (student)", "x": -0.36033, "y": -0.60326},
      {"s": "momentum β = 0.99 (student)", "x": -0.35738, "y": -0.59722},
      {"s": "momentum β = 0.99 (student)", "x": -0.35364, "y": -0.59239},
      {"s": "momentum β = 0.99 (student)", "x": -0.35089, "y": -0.58515},
      {"s": "momentum β = 0.99 (student)", "x": -0.34714, "y": -0.58032},
      {"s": "momentum β = 0.99 (student)", "x": -0.34420, "y": -0.57469},
      {"s": "momentum β = 0.99 (student)", "x": -0.34065, "y": -0.57107},
      {"s": "momentum β = 0.99 (student)", "x": -0.33750, "y": -0.56684},

      {"s": "momentum β = 0.99 (teacher)", "x": -0.41289, "y": -0.68756},
      {"s": "momentum β = 0.99 (teacher)", "x": -0.41093, "y": -0.68555},
      {"s": "momentum β = 0.99 (teacher)", "x": -0.40974, "y": -0.68313},
      {"s": "momentum β = 0.99 (teacher)", "x": -0.40778, "y": -0.68112},
      {"s": "momentum β = 0.99 (teacher)", "x": -0.40502, "y": -0.67750},
      {"s": "momentum β = 0.99 (teacher)", "x": -0.40246, "y": -0.67267},
      {"s": "momentum β = 0.99 (teacher)", "x": -0.39990, "y": -0.66945},
      {"s": "momentum β = 0.99 (teacher)", "x": -0.39715, "y": -0.66623},
      {"s": "momentum β = 0.99 (teacher)", "x": -0.39459, "y": -0.66100},
      {"s": "momentum β = 0.99 (teacher)", "x": -0.39203, "y": -0.65577},
      {"s": "momentum β = 0.99 (teacher)", "x": -0.39065, "y": -0.65416},
      {"s": "momentum β = 0.99 (teacher)", "x": -0.38730, "y": -0.64893},
      {"s": "momentum β = 0.99 (teacher)", "x": -0.38415, "y": -0.64249},
      {"s": "momentum β = 0.99 (teacher)", "x": -0.38022, "y": -0.63525},
      {"s": "momentum β = 0.99 (teacher)", "x": -0.37687, "y": -0.62962},
      {"s": "momentum β = 0.99 (teacher)", "x": -0.37352, "y": -0.62559},
      {"s": "momentum β = 0.99 (teacher)", "x": -0.37037, "y": -0.61915},
      {"s": "momentum β = 0.99 (teacher)", "x": -0.36703, "y": -0.61352},
      {"s": "momentum β = 0.99 (teacher)", "x": -0.36368, "y": -0.60829},
      {"s": "momentum β = 0.99 (teacher)", "x": -0.36053, "y": -0.60306},
      {"s": "momentum β = 0.99 (teacher)", "x": -0.35718, "y": -0.59742},
      {"s": "momentum β = 0.99 (teacher)", "x": -0.35384, "y": -0.59219},
      {"s": "momentum β = 0.99 (teacher)", "x": -0.35069, "y": -0.58535},
      {"s": "momentum β = 0.99 (teacher)", "x": -0.34734, "y": -0.58012},
      {"s": "momentum β = 0.99 (teacher)", "x": -0.34400, "y": -0.57489},
      {"s": "momentum β = 0.99 (teacher)", "x": -0.34085, "y": -0.57087},
      {"s": "momentum β = 0.99 (teacher)", "x": -0.33750, "y": -0.56684}
    ],
    "ann": [
      {"p": "005", "label": "Start Point", "x": -0.16856, "y": 0.6357},
      {"p": "005", "label": "End", "x": -0.14085, "y": 0.5305},
      {"p": "005", "label": "End", "x": -0.14063, "y": 0.52516},
      {"p": "005", "label": "End", "x": -0.14040, "y": 0.52203},
      {"p": "006", "label": "Start Point", "x": -0.41033, "y": -0.68796},
      {"p": "006", "label": "End", "x": -0.33717, "y": -0.56282},
      {"p": "006", "label": "End", "x": -0.33717, "y": -0.56684},
      {"p": "006", "label": "End", "x": -0.33278, "y": -0.56885}
    ]
  },
  "resolve": {"scale": {"color": "independent", "x": "independent", "y": "independent"}, "legend": {"color": "independent"}},
  "hconcat": [
    {
      "width": 459,
      "height": 345,
      "title": {"text": "Filter 005", "orient": "bottom", "anchor": "middle", "frame": "bounds", "font": "Liberation Serif", "fontSize": 29, "fontWeight": "normal", "color": "#111111", "offset": 16},
      "encoding": {
        "x": {"field": "x", "type": "quantitative", "scale": {"domain": [-0.17014, -0.139], "nice": false, "zero": false}, "axis": {"title": "dimension 1", "values": [-0.17, -0.165, -0.16, -0.155, -0.15, -0.145, -0.14], "format": ".3f", "tickSize": 2.5, "labelPadding": 0.5, "titlePadding": 1}},
        "y": {"field": "y", "type": "quantitative", "scale": {"domain": [0.5166, 0.6436], "nice": false, "zero": false}, "axis": {"title": "dimension 2", "values": [0.52, 0.54, 0.56, 0.58, 0.6, 0.62, 0.64], "format": ".2f", "domainColor": "#808080", "domainWidth": 2}}
      },
      "layer": [
        {"data": {"name": "f005"}, "transform": [{"filter": "datum.s === 'no momentum'"}], "mark": {"type": "line", "strokeWidth": 1.6}, "encoding": {"order": {"value": null}, "color": {"field": "s", "type": "nominal", "scale": {"domain": ["no momentum", "momentum β = 0.9 (student)", "momentum β = 0.9 (teacher)", "momentum β = 0.99 (student)", "momentum β = 0.99 (teacher)"], "range": ["#008000", "#0000ff", "#ff0000", "#000000", "#ffa500"]}, "legend": {"title": null, "orient": "top-right", "offset": 6, "symbolType": "stroke", "symbolSize": 484, "fillColor": "white", "strokeColor": "#cccccc", "cornerRadius": 3, "padding": 5, "labelOffset": 12, "rowPadding": 5.4, "encode": {"symbols": {"update": {"strokeWidth": {"signal": "indexof(['momentum β = 0.9 (student)', 'momentum β = 0.99 (student)'], datum.value) >= 0 ? 2.5 : 1.2"}, "opacity": {"signal": "indexof(['momentum β = 0.9 (student)', 'momentum β = 0.99 (student)'], datum.value) >= 0 ? 0.5 : 1"}}}}}}}},
        {"data": {"name": "f005"}, "transform": [{"filter": "datum.s === 'momentum β = 0.9 (student)'"}], "mark": {"type": "line", "strokeWidth": 3.5, "opacity": 0.65}, "encoding": {"order": {"value": null}, "color": {"field": "s", "type": "nominal"}}},
        {"data": {"name": "f005"}, "transform": [{"filter": "datum.s === 'momentum β = 0.9 (teacher)'"}], "mark": {"type": "line", "strokeWidth": 2.2}, "encoding": {"order": {"value": null}, "color": {"field": "s", "type": "nominal"}}},
        {"data": {"name": "f005"}, "transform": [{"filter": "datum.s === 'momentum β = 0.99 (student)'"}], "mark": {"type": "line", "strokeWidth": 2.6, "opacity": 0.9}, "encoding": {"order": {"value": null}, "color": {"field": "s", "type": "nominal"}}},
        {"data": {"name": "f005"}, "transform": [{"filter": "datum.s === 'momentum β = 0.99 (teacher)'"}], "mark": {"type": "line", "strokeWidth": 1.3}, "encoding": {"order": {"value": null}, "color": {"field": "s", "type": "nominal"}}},
        {"data": {"name": "ann"}, "transform": [{"filter": "datum.p === '005'"}], "mark": {"type": "text", "align": "left", "baseline": "alphabetic", "font": "DejaVu Sans", "fontSize": 10, "color": "#111111"}, "encoding": {"text": {"field": "label"}}}
      ]
    },
    {
      "width": 447,
      "height": 345,
      "title": {"text": "Filter 006", "orient": "bottom", "anchor": "middle", "frame": "bounds", "font": "Liberation Serif", "fontSize": 29, "fontWeight": "normal", "color": "#111111", "offset": 16},
      "encoding": {
        "x": {"field": "x", "type": "quantitative", "scale": {"domain": [-0.4171, -0.3292], "nice": false, "zero": false}, "axis": {"title": "dimension 1", "values": [-0.41, -0.4, -0.39, -0.38, -0.37, -0.36, -0.35, -0.34, -0.33], "format": ".2f", "tickSize": 2.5, "labelPadding": 0.5, "titlePadding": 1}},
        "y": {"field": "y", "type": "quantitative", "scale": {"domain": [-0.6949, -0.556], "nice": false, "zero": false}, "axis": {"title": "dimension 2", "values": [-0.68, -0.66, -0.64, -0.62, -0.6, -0.58, -0.56], "format": ".2f", "titlePadding": 1.5}}
      },
      "layer": [
        {"data": {"name": "f006"}, "transform": [{"filter": "datum.s === 'no momentum'"}], "mark": {"type": "line", "strokeWidth": 1.2}, "encoding": {"order": {"value": null}, "color": {"field": "s", "type": "nominal", "scale": {"domain": ["no momentum", "momentum β = 0.9 (student)", "momentum β = 0.9 (teacher)", "momentum β = 0.99 (student)", "momentum β = 0.99 (teacher)"], "range": ["#008000", "#0000ff", "#ff0000", "#000000", "#ffa500"]}, "legend": {"title": null, "orient": "top-left", "offset": 5, "symbolType": "stroke", "symbolSize": 484, "fillColor": "white", "strokeColor": "#cccccc", "cornerRadius": 3, "padding": 5, "labelOffset": 12, "rowPadding": 5.4, "encode": {"symbols": {"update": {"strokeWidth": {"signal": "indexof(['momentum β = 0.9 (student)', 'momentum β = 0.99 (student)'], datum.value) >= 0 ? 2.5 : 1.2"}, "opacity": {"signal": "indexof(['momentum β = 0.9 (student)', 'momentum β = 0.99 (student)'], datum.value) >= 0 ? 0.5 : 1"}}}}}}}},
        {"data": {"name": "f006"}, "transform": [{"filter": "datum.s === 'momentum β = 0.9 (student)'"}], "mark": {"type": "line", "strokeWidth": 2.4, "opacity": 0.6}, "encoding": {"order": {"value": null}, "color": {"field": "s", "type": "nominal"}}},
        {"data": {"name": "f006"}, "transform": [{"filter": "datum.s === 'momentum β = 0.9 (teacher)'"}], "mark": {"type": "line", "strokeWidth": 1.5}, "encoding": {"order": {"value": null}, "color": {"field": "s", "type": "nominal"}}},
        {"data": {"name": "f006"}, "transform": [{"filter": "datum.s === 'momentum β = 0.99 (student)'"}], "mark": {"type": "line", "strokeWidth": 2.2, "opacity": 0.8}, "encoding": {"order": {"value": null}, "color": {"field": "s", "type": "nominal"}}},
        {"data": {"name": "f006"}, "transform": [{"filter": "datum.s === 'momentum β = 0.99 (teacher)'"}], "mark": {"type": "line", "strokeWidth": 1.2}, "encoding": {"order": {"value": null}, "color": {"field": "s", "type": "nominal"}}},
        {"data": {"name": "ann"}, "transform": [{"filter": "datum.p === '006'"}], "mark": {"type": "text", "align": "left", "baseline": "alphabetic", "font": "DejaVu Sans", "fontSize": 10, "color": "#111111"}, "encoding": {"text": {"field": "label"}}}
      ]
    }
  ]
}
